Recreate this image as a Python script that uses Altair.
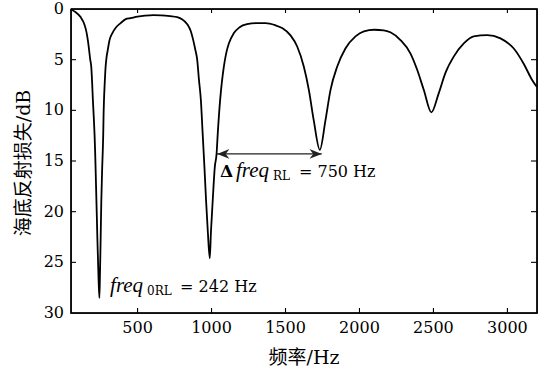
import altair as alt
import pandas as pd

# ---- curve data ----
freq_hz = [50, 80, 115, 140, 155, 165, 172, 180, 187, 193, 198, 204, 209, 213, 216, 219, 222, 225, 228, 232, 236, 242,
           246, 249, 252, 255, 258, 261, 265, 268, 270, 273, 278, 284, 290, 299, 310, 329, 355, 385, 420, 453, 500, 550,
           608, 660, 720, 768, 800, 836, 860, 875, 890, 903, 915, 928, 940, 952, 963, 975, 988,
           996, 1008, 1022, 1034, 1042, 1058, 1070, 1083, 1100, 1117, 1150, 1190, 1240, 1300, 1365, 1430, 1480, 1534,
           1579, 1624, 1658, 1691, 1732, 1770, 1804, 1849, 1905, 1973, 2030, 2100, 2164, 2209, 2277, 2345, 2390, 2435,
           2486, 2536, 2581, 2637, 2705, 2772, 2863, 2953, 3043, 3110, 3167, 3200]
loss_db = [0.05, 0.3, 0.8, 1.5, 2.3, 3.2, 4.0, 5.0, 5.7, 7.3, 9.0, 10.7, 12.3, 14.0, 15.6, 17.3, 19.0, 20.7, 22.5, 24.5, 26.5, 28.5,
           26.0, 23.8, 21.3, 18.9, 17.2, 15.6, 13.9, 12.3, 10.6, 9.0, 7.3, 5.7, 4.8, 4.0, 3.1, 2.4, 1.8, 1.4, 1.0, 0.9, 0.75, 0.65,
           0.6, 0.62, 0.7, 0.8, 1.0, 1.5, 2.2, 3.0, 4.0, 5.0, 7.0, 9.0, 12.3, 15.6, 18.9, 22.0, 24.6,
           22.0, 18.9, 15.6, 14.3, 12.3, 9.0, 7.2, 5.7, 4.3, 3.4, 2.4, 1.8, 1.5, 1.4, 1.4, 1.6, 1.9, 2.6,
           3.7, 5.7, 8.0, 11.0, 13.9, 11.0, 8.0, 5.7, 3.9, 2.7, 2.2, 2.05, 2.1, 2.3, 3.06, 4.4, 6.0, 8.0,
           10.2, 8.3, 6.3, 4.7, 3.4, 2.7, 2.57, 2.9, 3.9, 5.4, 7.0, 7.7]

x_ticks = [500, 1000, 1500, 2000, 2500, 3000]
y_ticks = [0, 5, 10, 15, 20, 25, 30]
y_inner_ticks = [5, 10, 15, 20, 25]
x_domain = [50, 3200]
y_domain = [0, 30]
x_title = "频率/Hz"
y_title = "海底反射损失/dB"

# arrow (Δfreq) and annotations
arrow_x = [1038, 1745]
arrow_y = [14.3]
anno1_x = [1057]
anno1_y = [16.6]
anno2_x = [314]
anno2_y = [27.9]

W, H = 466, 304
SERIF = "DejaVu Serif"
ITAL = "Liberation Serif"
MIXED = "DejaVu Serif, Noto Sans CJK SC"

# tick lengths expressed in data units (≈5 px inward)
TX = (x_domain[1] - x_domain[0]) / W
TY = (y_domain[1] - y_domain[0]) / H

curve = pd.DataFrame({"f": freq_hz, "rl": loss_db})
arrow = pd.DataFrame({"x1": [arrow_x[0]], "x2": [arrow_x[1]], "y": arrow_y})
heads = pd.DataFrame({"x": arrow_x, "y": arrow_y * 2, "side": ["L", "R"]})
a1 = pd.DataFrame({"x": anno1_x, "y": anno1_y})
a2 = pd.DataFrame({"x": anno2_x, "y": anno2_y})

# frame: closed path through the corners of the data domain
frame = pd.DataFrame({
    "x": [x_domain[0], x_domain[1], x_domain[1], x_domain[0], x_domain[0]],
    "y": [y_domain[0], y_domain[0], y_domain[1], y_domain[1], y_domain[0]],
    "o": [0, 1, 2, 3, 4],
})

# inward tick segments built from the tick lists
seg = []
for i, t in enumerate(x_ticks):
    seg += [{"id": f"b{i}", "x": t, "y": y_domain[1], "o": 0}, {"id": f"b{i}", "x": t, "y": y_domain[1] - 5 * TY, "o": 1}]
    seg += [{"id": f"t{i}", "x": t, "y": y_domain[0], "o": 0}, {"id": f"t{i}", "x": t, "y": y_domain[0] + 4 * TY, "o": 1}]
for i, t in enumerate(y_inner_ticks):
    seg += [{"id": f"l{i}", "x": x_domain[0], "y": t, "o": 0}, {"id": f"l{i}", "x": x_domain[0] + 5 * TX, "y": t, "o": 1}]
    seg += [{"id": f"r{i}", "x": x_domain[1], "y": t, "o": 0}, {"id": f"r{i}", "x": x_domain[1] - 6 * TX, "y": t, "o": 1}]
ticks = pd.DataFrame(seg)

xt = pd.DataFrame({"t": x_ticks, "lab": [str(v) for v in x_ticks], "lo": [y_domain[1]] * len(x_ticks)})
ylab = pd.DataFrame({"t": y_ticks, "lab": [str(v) for v in y_ticks], "lo": [x_domain[0]] * len(y_ticks)})
titles = pd.DataFrame({"xt": [x_title], "yt": [y_title]})

xs = alt.Scale(domain=x_domain, nice=False, zero=False)
ys = alt.Scale(domain=y_domain, nice=False, zero=False, reverse=True)


def X(f):
    return alt.X(f, scale=xs, axis=None)


def Y(f):
    return alt.Y(f, scale=ys, axis=None)


line = alt.Chart(curve).mark_line(color="black", strokeWidth=1.8, interpolate="monotone").encode(
    x=X("f:Q"), y=Y("rl:Q"))

frame_line = alt.Chart(frame).mark_line(color="black", strokeWidth=1.4).encode(
    x=X("x:Q"), y=Y("y:Q"), order="o:Q")

tick_lines = alt.Chart(ticks).mark_line(color="black", strokeWidth=1.1).encode(
    x=X("x:Q"), y=Y("y:Q"), detail="id:N", order="o:Q")

# tick labels placed through the scales
x_labels = alt.Chart(xt).mark_text(font=SERIF, fontSize=16, color="black", align="center",
                                   baseline="top", dy=7).encode(x=X("t:Q"), y=Y("lo:Q"), text="lab:N")
y_labels = alt.Chart(ylab).mark_text(font=SERIF, fontSize=16, color="black", align="right",
                                     baseline="middle", dx=-7).encode(x=X("lo:Q"), y=Y("t:Q"), text="lab:N")

# axis titles
x_title_mark = alt.Chart(titles).mark_text(font=MIXED, fontSize=19, color="black", align="center",
                                           baseline="middle").encode(
    x=alt.value(W / 2), y=alt.value(H + 45), text="xt:N")
y_title_mark = alt.Chart(titles).mark_text(font=MIXED, fontSize=19, color="black", align="center",
                                           baseline="middle", angle=270).encode(
    x=alt.value(-47), y=alt.value(H / 2 + 2), text="yt:N")

arrow_rule = alt.Chart(arrow).mark_rule(color="#222", strokeWidth=1.1).encode(
    x=X("x1:Q"), x2="x2:Q", y=Y("y:Q"))

left_head = alt.Chart(heads).transform_filter(alt.datum.side == "L").mark_point(
    shape="M0,0L2,-0.8L1.4,0L2,0.8Z", size=150, filled=True, color="#222", opacity=1, strokeWidth=0
).encode(x=X("x:Q"), y=Y("y:Q"))

right_head = alt.Chart(heads).transform_filter(alt.datum.side == "R").mark_point(
    shape="M0,0L-2,-0.8L-1.4,0L-2,0.8Z", size=150, filled=True, color="#222", opacity=1, strokeWidth=0
).encode(x=X("x:Q"), y=Y("y:Q"))


def piece(df, text, dx, size=16, font=SERIF, style="normal", weight="normal", dy=0):
    return alt.Chart(df).mark_text(
        text=text, align="left", baseline="alphabetic", dx=dx, dy=dy, font=font,
        fontSize=size, fontStyle=style, fontWeight=weight, color="black"
    ).encode(x=X("x:Q"), y=Y("y:Q"))


t1 = [
    piece(a1, "Δ", 0, size=17, weight="bold"),
    piece(a1, "freq", 16, size=21, font=ITAL, style="italic"),
    piece(a1, "RL", 53, size=12, dy=3),
    piece(a1, "= 750 Hz", 79),
]
t2 = [
    piece(a2, "freq", 0, size=21, font=ITAL, style="italic"),
    piece(a2, "0RL", 37, size=12, dy=3),
    piece(a2, "= 242 Hz", 70),
]

chart = alt.layer(
    frame_line, tick_lines,
    arrow_rule, left_head, right_head, *t1, *t2, line,
    x_labels, y_labels, x_title_mark, y_title_mark
).properties(
    width=W, height=H,
    autosize=alt.AutoSizeParams(type="none"),
    padding={"left": 71, "top": 9, "right": 3, "bottom": 61},
).configure(
    background="white",
    view=alt.ViewConfig(stroke="black", strokeWidth=1.4),
)

chart.save("out.html", embed_options={"renderer": "svg", "actions": False})
